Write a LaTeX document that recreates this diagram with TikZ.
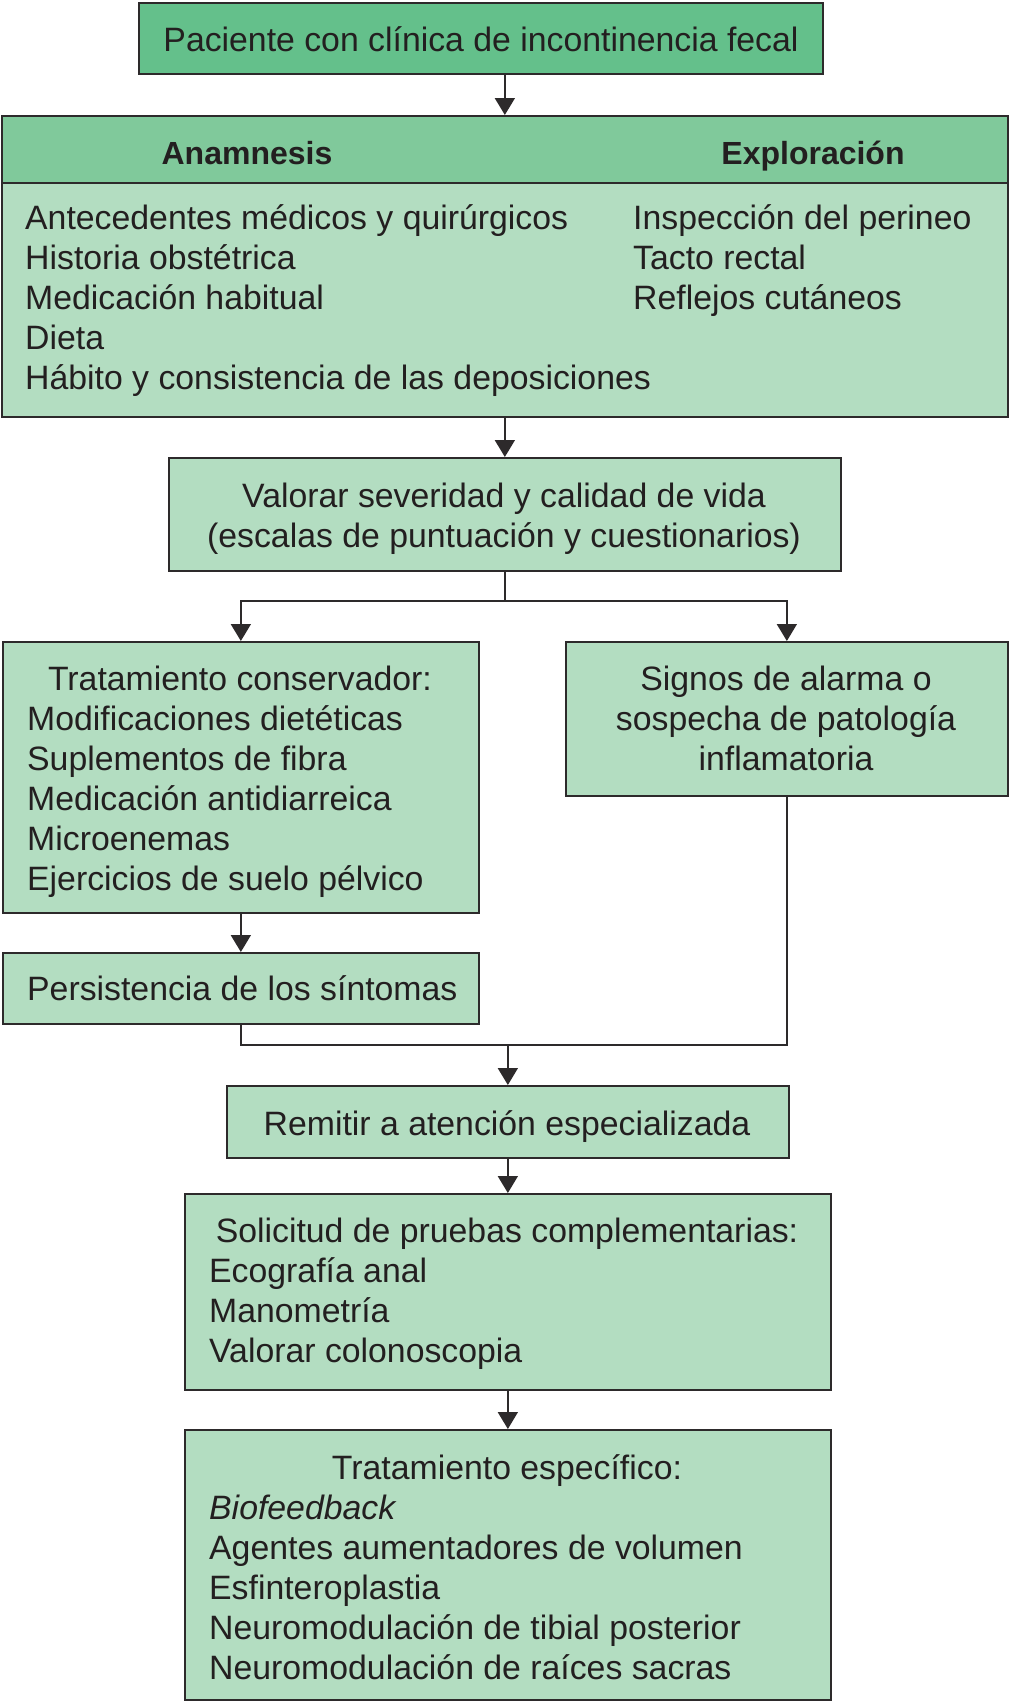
\documentclass[tikz,border=0pt]{standalone}
\usepackage{fontspec}
\setmainfont{Liberation Sans}
\usetikzlibrary{arrows.meta,calc}
\definecolor{darkg}{RGB}{100,192,139}
\definecolor{midg}{RGB}{128,201,155}
\definecolor{lightg}{RGB}{179,221,193}
\definecolor{linec}{RGB}{45,42,43}
\definecolor{textc}{RGB}{35,31,32}
\begin{document}
\begin{tikzpicture}[x=1pt,y=-1pt,
  box/.style={draw=linec, line width=1.7pt, fill=lightg, inner sep=0pt, anchor=north west},
  txt/.style={font=\fontsize{33.8}{40}\selectfont, text=textc, inner sep=0pt},
  hdr/.style={font=\fontsize{32}{40}\selectfont\bfseries, text=textc, inner sep=0pt},
  arr/.style={draw=linec, line width=1.7pt, -{Triangle[width=20pt,length=17pt]}},
  ln/.style={draw=linec, line width=1.7pt}]
\useasboundingbox (0,0) rectangle (1009,1702);
% boxes
\node[box, fill=darkg, minimum width=684pt, minimum height=71pt] (top) at (138,2) {};
\node[box, minimum width=1006pt, minimum height=301pt] (b2) at (1,115) {};
\node[box, fill=midg, minimum width=1006pt, minimum height=67pt] (b2h) at (1,115) {};
\node[box, minimum width=672pt, minimum height=113pt] (b3) at (168,457) {};
\node[box, minimum width=476pt, minimum height=271pt] (b4) at (2,641) {};
\node[box, minimum width=442pt, minimum height=154pt] (b5) at (565,641) {};
\node[box, minimum width=476pt, minimum height=71pt] (b6) at (2,952) {};
\node[box, minimum width=562pt, minimum height=72pt] (b7) at (226,1085) {};
\node[box, minimum width=646pt, minimum height=196pt] (b8) at (184,1193) {};
\node[box, minimum width=646pt, minimum height=270pt] (b9) at (184,1429) {};
% texts
\node[txt, anchor=base] (t0) at (481,52) {Paciente con clínica de incontinencia fecal};
\node[hdr, anchor=base] (h1) at (247,164) {Anamnesis};
\node[hdr, anchor=base] (h2) at (813,164) {Exploración};
\node[txt, anchor=base west] (a1) at (25,229) {Antecedentes médicos y quirúrgicos};
\node[txt, anchor=base west] (a2) at (25,269) {Historia obstétrica};
\node[txt, anchor=base west] (a3) at (25,309) {Medicación habitual};
\node[txt, anchor=base west] (a4) at (25,349) {Dieta};
\node[txt, anchor=base west] (a5) at (25,389) {Hábito y consistencia de las deposiciones};
\node[txt, anchor=base west] (e1) at (633,229) {Inspección del perineo};
\node[txt, anchor=base west] (e2) at (633,269) {Tacto rectal};
\node[txt, anchor=base west] (e3) at (633,309) {Reflejos cutáneos};
\node[txt, anchor=base] (v1) at (504,507) {Valorar severidad y calidad de vida};
\node[txt, anchor=base] (v2) at (504,547) {(escalas de puntuación y cuestionarios)};
\node[txt, anchor=base] (c0) at (240,690) {Tratamiento conservador:};
\node[txt, anchor=base west] (c1) at (27,730) {Modificaciones dietéticas};
\node[txt, anchor=base west] (c2) at (27,770) {Suplementos de fibra};
\node[txt, anchor=base west] (c3) at (27,810) {Medicación antidiarreica};
\node[txt, anchor=base west] (c4) at (27,850) {Microenemas};
\node[txt, anchor=base west] (c5) at (27,890) {Ejercicios de suelo pélvico};
\node[txt, anchor=base] (s1) at (786,690) {Signos de alarma o};
\node[txt, anchor=base] (s2) at (786,730) {sospecha de patología};
\node[txt, anchor=base] (s3) at (786,770) {inflamatoria};
\node[txt, anchor=base west] (p1) at (27,1000) {Persistencia de los síntomas};
\node[txt, anchor=base] (r1) at (507,1135) {Remitir a atención especializada};
\node[txt, anchor=base] (q0) at (507,1242) {Solicitud de pruebas complementarias:};
\node[txt, anchor=base west] (q1) at (209,1282) {Ecografía anal};
\node[txt, anchor=base west] (q2) at (209,1322) {Manometría};
\node[txt, anchor=base west] (q3) at (209,1362) {Valorar colonoscopia};
\node[txt, anchor=base] (x0) at (507,1479) {Tratamiento específico:};
\node[txt, anchor=base west] (x1) at (209,1519) {\itshape Biofeedback};
\node[txt, anchor=base west] (x2) at (209,1559) {Agentes aumentadores de volumen};
\node[txt, anchor=base west] (x3) at (209,1599) {Esfinteroplastia};
\node[txt, anchor=base west] (x4) at (209,1639) {Neuromodulación de tibial posterior};
\node[txt, anchor=base west] (x5) at (209,1679) {Neuromodulación de raíces sacras};
% connectors
\coordinate (split) at ($(b3.south)+(0,29)$);
\coordinate (merge) at ($(b7.north)+(0,-40)$);
\draw[arr] (b2.north |- top.south) -- (b2.north);
\draw[arr] (b2.south) -- (b3.north -| b2.south);
\draw[ln] (b3.south) -- (split);
\draw[arr] (split) -| (b4.north);
\draw[arr] (split) -| (b5.north);
\draw[arr] (b4.south) -- (b6.north);
\draw[ln] (b6.south) |- (merge);
\draw[ln] (b5.south) |- (merge);
\draw[arr] (merge) -- (b7.north);
\draw[arr] (b7.south) -- (b8.north);
\draw[arr] (b8.south) -- (b9.north);
\end{tikzpicture}
\end{document}
